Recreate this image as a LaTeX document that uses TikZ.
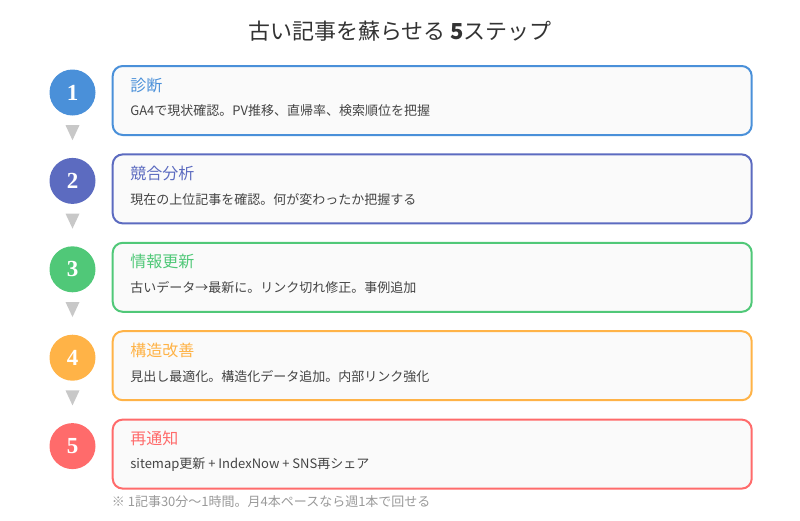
\documentclass[tikz,border=0pt]{standalone}
\usepackage{fontspec}
\setmainfont{Noto Sans CJK JP}
\newfontfamily\numfont{Liberation Serif}
\usetikzlibrary{positioning}
\definecolor{stepblue}{HTML}{4A90D9}
\definecolor{stepindigo}{HTML}{5C6BC0}
\definecolor{stepgreen}{HTML}{50C878}
\definecolor{steporange}{HTML}{FFB347}
\definecolor{stepred}{HTML}{FF6B6B}
\definecolor{cardfill}{HTML}{FAFAFA}
\definecolor{titlegray}{HTML}{333333}
\definecolor{descgray}{HTML}{444444}
\definecolor{notegray}{HTML}{999999}
\definecolor{tipgray}{HTML}{C8C8C8}

\begin{document}
\begin{tikzpicture}[
    x=1pt, y=-1pt,
    num/.style={circle, minimum size=46pt, inner sep=0pt, text=white, font=\numfont\bfseries\fontsize{23}{23}\selectfont},
    card/.style={rectangle, draw, line width=2pt, rounded corners=10pt, fill=cardfill, minimum width=639pt, minimum height=69pt},
    cardtitle/.style={anchor=west, inner sep=0pt, font=\fontsize{16}{19}\selectfont},
    carddesc/.style={anchor=west, inner sep=0pt, text=descgray, font=\fontsize{13}{15}\selectfont},
    downtip/.style={fill=tipgray}
]
\useasboundingbox (0,0) rectangle (800,520);

% Title
\node[text=titlegray, font=\fontsize{22}{25}\selectfont] (title) at (400,31) {古い記事を蘇らせる {\bfseries 5}ステップ};

% Step circles
\node[num, fill=stepblue] (c1) at (72.5,92.5) {1};
\node[num, fill=stepindigo, below=42pt of c1] (c2) {2};
\node[num, fill=stepgreen, below=42pt of c2] (c3) {3};
\node[num, fill=steporange, below=42pt of c3] (c4) {4};
\node[num, fill=stepred, below=42pt of c4] (c5) {5};

% Cards
\node[card, draw=stepblue, right=16pt of c1, yshift=-8pt] (b1) {};
\node[card, draw=stepindigo, right=16pt of c2, yshift=-8pt] (b2) {};
\node[card, draw=stepgreen, right=16pt of c3, yshift=-8pt] (b3) {};
\node[card, draw=steporange, right=16pt of c4, yshift=-8pt] (b4) {};
\node[card, draw=stepred, right=16pt of c5, yshift=-8pt] (b5) {};

% Card texts
\node[cardtitle, text=stepblue] (t1) at ([xshift=18.5pt,yshift=-20pt]b1.north west) {診断};
\node[carddesc] (d1) at ([xshift=18.5pt,yshift=-46pt]b1.north west) {GA4で現状確認。PV推移、直帰率、検索順位を把握};

\node[cardtitle, text=stepindigo] (t2) at ([xshift=18.5pt,yshift=-20pt]b2.north west) {競合分析};
\node[carddesc] (d2) at ([xshift=18.5pt,yshift=-46pt]b2.north west) {現在の上位記事を確認。何が変わったか把握する};

\node[cardtitle, text=stepgreen] (t3) at ([xshift=18.5pt,yshift=-20pt]b3.north west) {情報更新};
\node[carddesc] (d3) at ([xshift=18.5pt,yshift=-46pt]b3.north west) {古いデータ→最新に。リンク切れ修正。事例追加};

\node[cardtitle, text=steporange] (t4) at ([xshift=18.5pt,yshift=-20pt]b4.north west) {構造改善};
\node[carddesc] (d4) at ([xshift=18.5pt,yshift=-46pt]b4.north west) {見出し最適化。構造化データ追加。内部リンク強化};

\node[cardtitle, text=stepred] (t5) at ([xshift=18.5pt,yshift=-20pt]b5.north west) {再通知};
\node[carddesc] (d5) at ([xshift=18.5pt,yshift=-46pt]b5.north west) {sitemap更新 + IndexNow + SNS再シェア};

% Down tips between circles
\fill[downtip] ([xshift=-7pt,yshift=-9.5pt]c1.south) -- ([xshift=7pt,yshift=-9.5pt]c1.south) -- ([yshift=-24.5pt]c1.south) -- cycle;
\fill[downtip] ([xshift=-7pt,yshift=-9.5pt]c2.south) -- ([xshift=7pt,yshift=-9.5pt]c2.south) -- ([yshift=-24.5pt]c2.south) -- cycle;
\fill[downtip] ([xshift=-7pt,yshift=-9.5pt]c3.south) -- ([xshift=7pt,yshift=-9.5pt]c3.south) -- ([yshift=-24.5pt]c3.south) -- cycle;
\fill[downtip] ([xshift=-7pt,yshift=-9.5pt]c4.south) -- ([xshift=7pt,yshift=-9.5pt]c4.south) -- ([yshift=-24.5pt]c4.south) -- cycle;

% Note
\node[anchor=west, inner sep=0pt, text=notegray, font=\fontsize{13}{15}\selectfont] (note) at ([yshift=-11.5pt]b5.south west) {※ 1記事30分〜1時間。月4本ペースなら週1本で回せる};

\end{tikzpicture}
\end{document}
